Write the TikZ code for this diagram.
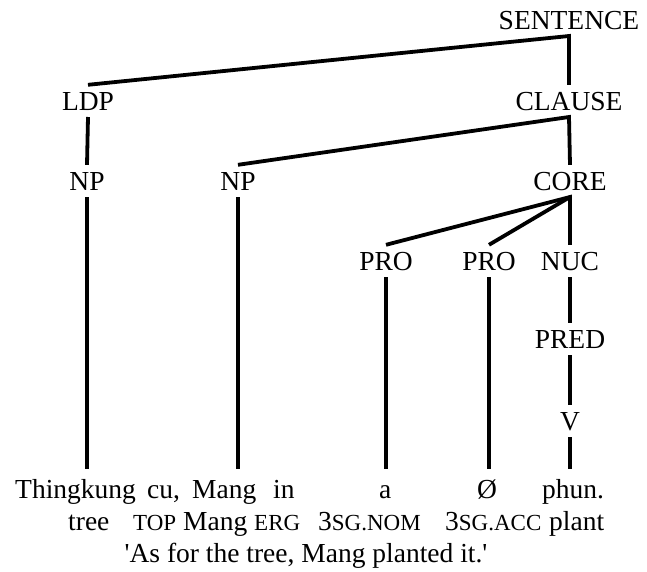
\documentclass[tikz,border=0pt]{standalone}
\usepackage{fontspec}
\setmainfont{Liberation Serif}
% reduced capitals for the gloss abbreviations
\newcommand\glsc[1]{{\fontsize{23}{27}\selectfont #1}}

\begin{document}
\begin{tikzpicture}[x=1pt,y=-1pt,
  every node/.style={inner sep=0pt, font=\fontsize{27.5}{33}\selectfont},
  cat/.style={anchor=base, text height=18.2pt, text depth=0pt, outer ysep=7pt},
  word/.style={anchor=base west, text height=18.2pt, text depth=0pt, outer ysep=11pt},
  gloss/.style={anchor=base west},
  branch/.style={line width=3.8pt, line cap=butt, line join=miter}]
\useasboundingbox (0,0) rectangle (647,571);

% category labels of the tree
\node[cat] (sent)   at (569,29)  {SENTENCE};
\node[cat] (ldp)    at (88,110)  {LDP};
\node[cat] (clause) at (569,110) {CLAUSE};
\node[cat] (np1)    at (87,190)  {NP};
\node[cat] (np2)    at (238,190) {NP};
\node[cat] (core)   at (570,190) {CORE};
\node[cat] (pro1)   at (386,270) {PRO};
\node[cat] (pro2)   at (489,270) {PRO};
\node[cat] (nuc)    at (570,270) {NUC};
\node[cat] (pred)   at (570,348) {PRED};
\node[cat] (v)      at (570,430) {V};

% object-language words
\node[word] (w1) at (15,498)  {Thingkung};
\node[word] (w2) at (147,498) {cu,};
\node[word] (w3) at (192,498) {Mang};
\node[word] (w4) at (273,498) {in};
\node[word] (w5) at (379,498) {a};
\node[word] (w6) at (477,498) {Ø};
\node[word] (w7) at (542,498) {phun.};

% glosses
\node[gloss] (g1) at (68,530)  {tree};
\node[gloss] (g2) at (133,530) {\glsc{TOP}};
\node[gloss] (g3) at (183,530) {Mang};
\node[gloss] (g4) at (254,530) {\glsc{ERG}};
\node[gloss] (g5) at (318,530) {3\glsc{SG.NOM}};
\node[gloss] (g6) at (445,530) {3\glsc{SG.ACC}};
\node[gloss] (g7) at (549,530) {plant};

% free translation
\node[anchor=base] (tr) at (306,562) {\textquotesingle As for the tree, Mang planted it.\textquotesingle};

% branches
\draw[branch] (ldp.north) -- (sent.south) -- (clause.north);
\draw[branch] (ldp.south) -- (np1.north);
\draw[branch] (np2.north) -- (clause.south) -- (core.north);
\draw[branch] (pro1.north) -- (core.south) -- (nuc.north);
\draw[branch] (pro2.north) -- (core.south);
\draw[branch] (nuc.south) -- (pred.north);
\draw[branch] (pred.south) -- (v.north);

% lines down to the words
\draw[branch] (np1.south)  -- (np1 |- w1.north);
\draw[branch] (np2.south)  -- (np2 |- w3.north);
\draw[branch] (pro1.south) -- (pro1 |- w5.north);
\draw[branch] (pro2.south) -- (pro2 |- w6.north);
\draw[branch] (v.south)    -- (v |- w7.north);
\end{tikzpicture}
\end{document}
